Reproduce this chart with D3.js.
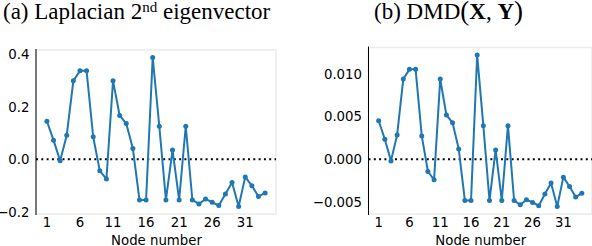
<!DOCTYPE html>
<html><head><meta charset="utf-8">
<script src="https://cdn.jsdelivr.net/npm/d3@7"></script>
<style>body{margin:0;background:#fff}svg{display:block}</style>
</head><body>
<script>
const nodes = d3.range(1, 35);
const laplacian = [0.145,0.073,-0.006,0.092,0.299,0.337,0.337,0.086,-0.044,-0.075,
  0.299,0.167,0.136,0.041,-0.155,-0.155,0.388,0.126,-0.155,0.035,
  -0.155,0.126,-0.155,-0.170,-0.151,-0.164,-0.176,-0.132,-0.088,-0.180,
  -0.067,-0.101,-0.142,-0.128];
const dmd = [0.00452,0.00234,-0.0002,0.00285,0.00941,0.01055,0.01055,0.00273,-0.00145,-0.00243,
  0.00941,0.00519,0.00429,0.00121,-0.00485,-0.00485,0.01223,0.00394,-0.00485,0.00109,
  -0.00485,0.00394,-0.00485,-0.00536,-0.00477,-0.00508,-0.00547,-0.0041,-0.00281,-0.00555,
  -0.00211,-0.00321,-0.00445,-0.00399];
const xTicks = [1,6,11,16,21,26,31];
const yTicksA = [-0.2,0.0,0.2,0.4];
const yTicksB = [-0.005,0.000,0.005,0.010];
const xLabel = "Node number";

const W = 592, H = 246;
const svg = d3.select("body").append("svg").attr("width", W).attr("height", H);

function panel(values, yTicks, fmt, box) {
  const [x0, x1, y0, y1] = box;
  const xm = (34 - 1) * 0.05;
  const x = d3.scaleLinear().domain([1 - xm, 34 + xm]).range([x0, x1]);
  const ext = d3.extent(values), ym = (ext[1] - ext[0]) * 0.05;
  const y = d3.scaleLinear().domain([ext[0] - ym, ext[1] + ym]).range([y1, y0]);
  const g = svg.append("g");
  g.append("rect").attr("x", x0).attr("y", y0).attr("width", x1 - x0).attr("height", y1 - y0)
    .attr("fill", "none").attr("stroke", "#ebebeb").attr("stroke-width", 1.5);
  g.append("line").attr("x1", x0).attr("x2", x0).attr("y1", y0 - 1).attr("y2", y1 + 1)
    .attr("stroke", "#000").attr("stroke-width", 1);
  g.append("line").attr("x1", x0).attr("x2", x1).attr("y1", y(0)).attr("y2", y(0))
    .attr("stroke", "#000").attr("stroke-width", 2).attr("stroke-dasharray", "2,3.3");
  g.selectAll(".yt").data(yTicks).enter().append("text")
    .attr("x", x0 - 6.5).attr("y", d => y(d)).attr("dy", "0.36em")
    .attr("text-anchor", "end").attr("font-family", "DejaVu Sans").attr("font-size", 13.3)
    .text(d => fmt(d).replace("-", "\u2212"));
  g.selectAll(".xt").data(xTicks).enter().append("text")
    .attr("x", d => x(d)).attr("y", 227).attr("text-anchor", "middle")
    .attr("font-family", "DejaVu Sans").attr("font-size", 13.3).text(d => d);
  g.append("text").attr("x", (x(1) + x(34)) / 2 + 0.5).attr("y", 244.5).attr("text-anchor", "middle")
    .attr("font-family", "DejaVu Sans").attr("font-size", 13.3).text(xLabel);
  const line = d3.line().x((d, i) => x(nodes[i])).y(d => y(d));
  g.append("path").datum(values).attr("d", line).attr("fill", "none")
    .attr("stroke", "#1f77b4").attr("stroke-width", 2).attr("stroke-linejoin", "round");
  g.selectAll(".pt").data(values).enter().append("circle")
    .attr("cx", (d, i) => x(nodes[i])).attr("cy", d => y(d)).attr("r", 2.5).attr("fill", "#1f77b4");
  return g;
}

panel(laplacian, yTicksA, d3.format(".1f"), [36, 276, 50, 214]);
panel(dmd, yTicksB, d3.format(".3f"), [368.5, 592, 47.5, 214]);

const t1 = svg.append("text").attr("x", 3).attr("y", 19).attr("font-family", "Liberation Serif").attr("font-size", 23);
t1.append("tspan").text("(a) Laplacian 2");
t1.append("tspan").attr("font-size", 15).attr("dy", -7.5).text("nd");
t1.append("tspan").attr("dy", 7.5).text(" eigenvector");

const t2 = svg.append("text").attr("x", 374).attr("y", 19).attr("font-family", "Liberation Serif").attr("font-size", 23);
t2.append("tspan").text("(b) DMD");
t2.append("tspan").attr("font-size", 27).attr("dy", 1).text("(");
t2.append("tspan").attr("font-weight", "bold").attr("dy", -1).text("X");
t2.append("tspan").text(", ");
t2.append("tspan").attr("font-weight", "bold").text("Y");
t2.append("tspan").attr("font-size", 27).attr("dy", 1).text(")");
</script>
</body></html>
